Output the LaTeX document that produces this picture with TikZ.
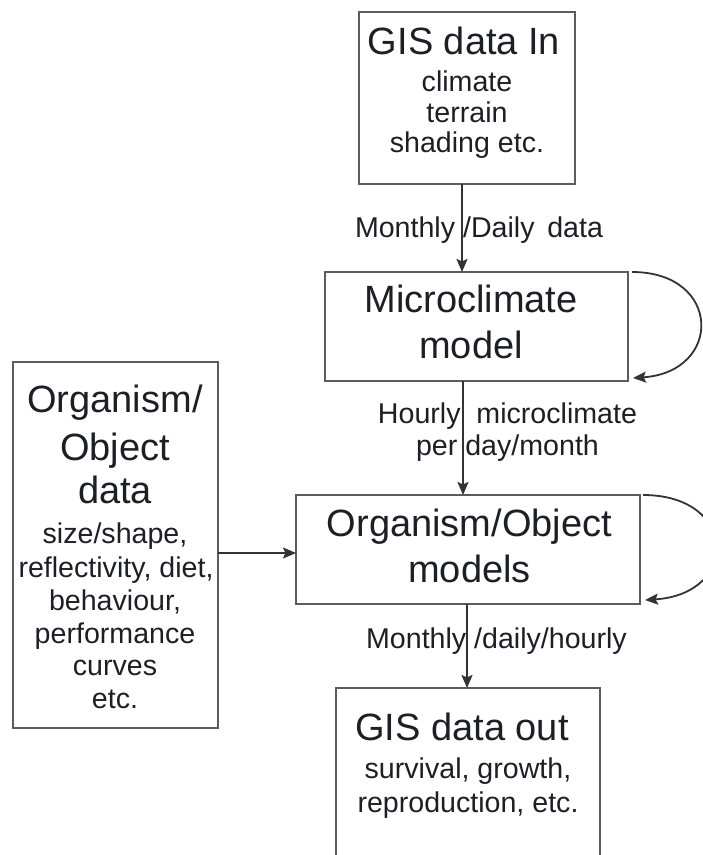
\documentclass[tikz,border=0pt]{standalone}
\usepackage{fontspec}
\setmainfont{Liberation Sans}
\usetikzlibrary{arrows.meta}
\definecolor{boxgray}{HTML}{5C5C5C}
\definecolor{linegray}{HTML}{333333}
\definecolor{txt}{HTML}{1E1E26}
\tikzset{
  box/.style={draw=boxgray, line width=1pt, rectangle, inner sep=0pt, outer sep=0pt},
  big/.style={font=\fontsize{19}{22}\selectfont, text=txt, inner sep=0pt, anchor=base},
  small/.style={font=\fontsize{14.3}{16.2}\selectfont, text=txt, inner sep=0pt, anchor=base},
  arr/.style={draw=linegray, line width=0.9pt, -{Stealth[length=6.5pt,width=5.5pt,inset=1.2pt]}},
}
\begin{document}
\begin{tikzpicture}[x=0.5pt,y=-0.5pt]
\useasboundingbox (0,0) rectangle (702,855);
% boxes
\node[box, minimum width=108pt, minimum height=86pt] (gisin) at (467,98) {};
\node[box, minimum width=151.5pt, minimum height=54.5pt] (micro) at (476.5,326.5) {};
\node[box, minimum width=172pt, minimum height=54.5pt] (org) at (468,549.5) {};
\node[box, minimum width=102.5pt, minimum height=183pt] (orgdata) at (115.5,545) {};
\node[box, minimum width=132pt, minimum height=91pt] (gisout) at (468,779) {};
% texts: GIS data In
\node[big] (t1) at (464,55) {GIS data In};
\node[small] (t2) at (467,92) {climate};
\node[small] (t3) at (467,123) {terrain};
\node[small] (t4) at (467,153) {shading etc.};
% Microclimate
\node[big] (t5) at (471,313) {Microclimate};
\node[big] (t6) at (471,358) {model};
% Organism/Object models
\node[big] (t7) at (469.5,536) {Organism/Object};
\node[big] (t8) at (469.5,582) {models};
% Organism/Object data
\node[big] (t9) at (115,412) {Organism/};
\node[big] (t10) at (115,460) {Object};
\node[big] (t11) at (115,503) {data};
\node[small] (t12) at (115,543) {size/shape,};
\node[small] (t13) at (116,577) {reflectivity, diet,};
\node[small] (t14) at (115,610) {behaviour,};
\node[small] (t15) at (115,643) {performance};
\node[small] (t16) at (115,675) {curves};
\node[small] (t17) at (115,708) {etc.};
% GIS data out
\node[big] (t18) at (462,740) {GIS data out};
\node[small] (t19) at (468,778) {survival, growth,};
\node[small] (t20) at (468,812) {reproduction, etc.};
% connector labels
\node[small] (l1) at (479,238) {Monthly /Daily\ \,data};
\node[small] (l2a) at (507.5,423) {Hourly\ \ microclimate};
\node[small] (l2b) at (507.5,455) {per day/month};
\node[small] (l3) at (496.5,648) {Monthly /daily/hourly};
% connector positions
\coordinate (c1) at (462,0);
\coordinate (c2) at (463,0);
\coordinate (c3) at (467,0);
\coordinate (c4) at (0,553);
% connectors
\draw[arr] (gisin.south -| c1) -- (micro.north -| c1);
\draw[arr] (micro.south -| c2) -- (org.north -| c2);
\draw[arr] (org.south -| c3) -- (gisout.north -| c3);
\draw[arr] (orgdata.east |- c4) -- (org.west |- c4);
% self loops
\draw[arr] ([xshift=2pt]micro.north east) .. controls +(90,0) and +(90,-6) .. ([xshift=2.5pt,yshift=1.5pt]micro.south east);
\draw[arr] ([xshift=1.5pt]org.north east) .. controls +(95,0) and +(95,-6) .. ([xshift=2.5pt,yshift=2pt]org.south east);
\end{tikzpicture}
\end{document}
